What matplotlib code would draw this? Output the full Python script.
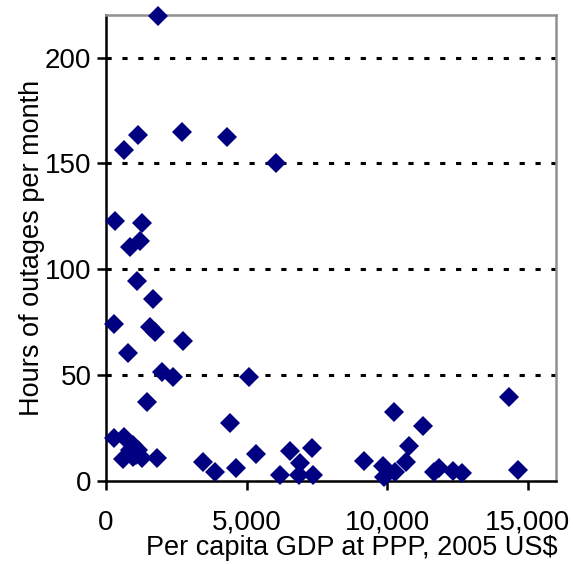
import matplotlib.pyplot as plt
from matplotlib.ticker import FuncFormatter

plt.rcParams['font.family'] = ['Liberation Sans', 'DejaVu Sans']

# per capita GDP (2005 US$, PPP) and hours of outages per month
gdp = [1850, 640, 1130, 2700, 4300, 6040,
       320, 1270, 850, 1210, 1090, 1660, 285, 1570, 1740, 2750, 790,
       1980, 2370, 5070, 1470, 4410,
       285, 640, 970, 1150, 850, 1050, 590, 970, 1270, 1830,
       3440, 3880, 4630, 5340, 6190, 6550, 6900, 6850, 7320, 7380,
       10230, 11290, 10780, 9190, 9850, 10680, 9900, 10290,
       11650, 11830, 12360, 12660, 14320, 14650]
outages = [219.5, 156.5, 163.3, 164.8, 162.5, 150,
           122.8, 122, 110.7, 113.5, 94.6, 85.8, 74.2, 72.6, 70.3, 66.3, 60.7,
           51.4, 49.3, 49, 37.4, 27.4,
           20.2, 21, 17.1, 14.8, 14.8, 12.5, 10.4, 11.6, 10.8, 10.8,
           8.8, 4.5, 6.1, 12.7, 3, 14, 8.5, 3, 15.6, 3,
           32.4, 26.1, 16.7, 9.7, 7.2, 9.2, 1.9, 4.5,
           4.1, 6.1, 4.9, 3.8, 39.9, 5.3]

xticks = [0, 5000, 10000, 15000]
yticks = [0, 50, 100, 150, 200]

fig = plt.figure(figsize=(5.73, 5.64), dpi=100)
ax = fig.add_axes([0.185, 0.147, 0.785, 0.826])

for yv in yticks[1:]:
    ax.axhline(yv, color='black', lw=2.2, ls=(0, (1.7, 3.5)), zorder=1)

ax.plot(gdp, outages, 'D', color='#000080', markersize=10, markeredgewidth=0,
        clip_on=False, zorder=3)

ax.set_xlim(0, 16000)
ax.set_ylim(0, 220)
ax.set_xticks(xticks)
ax.set_yticks(yticks)
ax.xaxis.set_major_formatter(FuncFormatter(lambda v, p: f'{int(v):,}'))

for s in ['left', 'bottom']:
    ax.spines[s].set_color('black')
    ax.spines[s].set_linewidth(1.8)
for s in ['top', 'right']:
    ax.spines[s].set_color('#909090')
    ax.spines[s].set_linewidth(1.8)

ax.tick_params(axis='both', direction='out', length=6.5, width=1.8,
               labelsize=20, pad=4)
ax.tick_params(axis='x', pad=14)

ax.set_xlabel('Per capita GDP at PPP, 2005 US$', fontsize=19.5, labelpad=0)
ax.xaxis.set_label_coords(0.5456, -0.115)
ax.set_ylabel('Hours of outages per month', fontsize=19.5)
ax.yaxis.set_label_coords(-0.185 + 22 / 450, 0.5)

fig.savefig('out.png', dpi=100)
